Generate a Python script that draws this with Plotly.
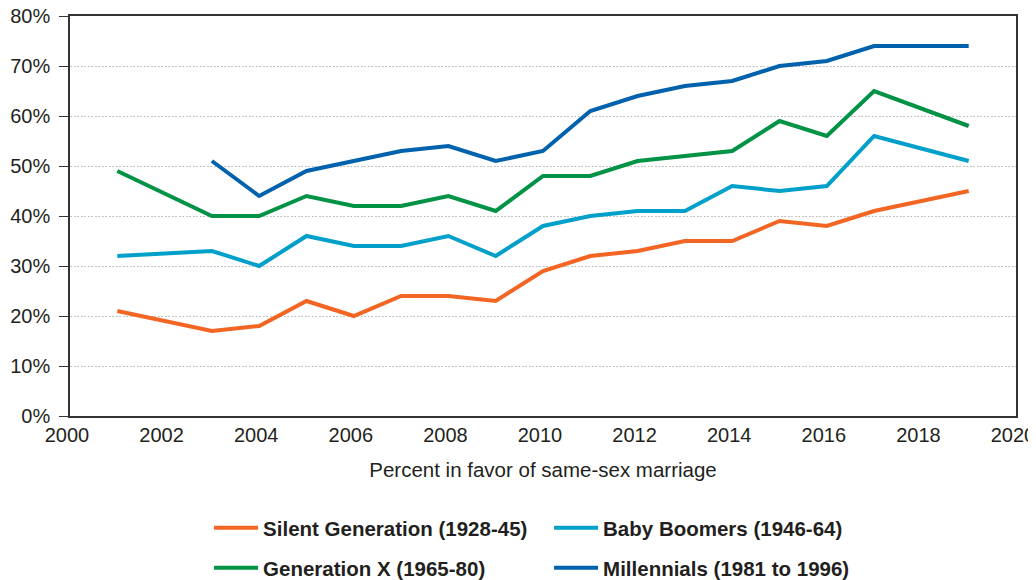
import plotly.graph_objects as go

years_all = [2001, 2003, 2004, 2005, 2006, 2007, 2008, 2009, 2010, 2011, 2012, 2013, 2014, 2015, 2016, 2017, 2019]
silent = [21, 17, 18, 23, 20, 24, 24, 23, 29, 32, 33, 35, 35, 39, 38, 41, 45]
boomers = [32, 33, 30, 36, 34, 34, 36, 32, 38, 40, 41, 41, 46, 45, 46, 56, 51]
genx = [49, 40, 40, 44, 42, 42, 44, 41, 48, 48, 51, 52, 53, 59, 56, 65, 58]
years_mill = [2003, 2004, 2005, 2006, 2007, 2008, 2009, 2010, 2011, 2012, 2013, 2014, 2015, 2016, 2017, 2019]
millennials = [51, 44, 49, 51, 53, 54, 51, 53, 61, 64, 66, 67, 70, 71, 74, 74]

x_ticks = list(range(2000, 2021, 2))
x_labels = [str(v) for v in x_ticks]
y_ticks = list(range(0, 81, 10))
y_labels = [f"{v}%" for v in y_ticks]

series = [
    ("Silent Generation (1928-45)", years_all, silent, "#F26522", "legend"),
    ("Baby Boomers (1946-64)", years_all, boomers, "#00A0CB", "legend"),
    ("Generation X (1965-80)", years_all, genx, "#009245", "legend2"),
    ("Millennials (1981 to 1996)", years_mill, millennials, "#0062AC", "legend2"),
]

fig = go.Figure()
for name, xs, ys, color, leg in series:
    fig.add_trace(go.Scatter(x=xs, y=ys, name=name, mode="lines", legend=leg,
                             line=dict(color=color, width=4)))

FONT = "Liberation Sans, Arial, Helvetica, sans-serif"
axis_font = dict(family=FONT, size=20, color="#231F20")
leg_font = dict(family=FONT, size=20.5, color="#231F20", weight="bold")

leg_common = dict(orientation="h", x=0.147, xanchor="left", yanchor="middle",
                  entrywidth=281, entrywidthmode="pixels", itemwidth=44,
                  font=leg_font, bgcolor="rgba(0,0,0,0)")

fig.update_layout(
    width=1036, height=620,
    margin=dict(l=62, r=28, t=8, b=212),
    paper_bgcolor="white", plot_bgcolor="white",
    font=axis_font,
    showlegend=True,
    legend=dict(y=-0.28, **leg_common),
    legend2=dict(y=-0.38, **leg_common),
    xaxis=dict(range=[2000, 2020], tickvals=x_ticks, ticktext=x_labels,
               showgrid=False, zeroline=False, showline=True, linecolor="#333333",
               linewidth=1.5, mirror=True, ticks="", tickfont=axis_font, automargin=False,
               ticklabeloverflow="allow", ticklabelshift=-3,
               title=dict(text="Percent in favor of same-sex marriage",
                          font=dict(family=FONT, size=20.5, color="#231F20"),
                          standoff=18)),
    yaxis=dict(range=[0, 80], tickvals=y_ticks, ticktext=y_labels,
               showgrid=True, gridcolor="#C4C4C4", griddash="2px,1.5px", gridwidth=1,
               zeroline=False, showline=True, linecolor="#333333", linewidth=1.5,
               mirror=True, ticks="outside", ticklen=9, tickcolor="#333333",
               tickwidth=1.2, tickfont=axis_font, ticklabelstandoff=5, automargin=False,
               ticklabeloverflow="allow"),
)

fig.write_html("out.html")
